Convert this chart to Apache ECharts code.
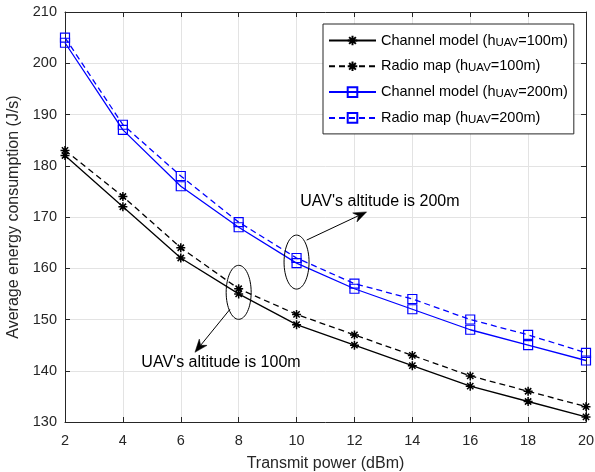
<!DOCTYPE html>
<html>
<head>
<meta charset="utf-8">
<script src="https://cdn.jsdelivr.net/npm/echarts@6/dist/echarts.min.js"></script>
<style>
  html, body { margin: 0; padding: 0; background: #fff; }
  #chart { width: 595px; height: 472px; }
</style>
</head>
<body>
<div id="chart"></div>
<script>
// data
const txPower = [2, 4, 6, 8, 10, 12, 14, 16, 18, 20];
const channel100 = [182, 172, 162, 155, 149, 145, 141, 137, 134, 131];
const radio100 = [183, 174, 164, 156, 151, 147, 143, 139, 136, 133];
const channel200 = [204, 187, 176, 168, 161, 156, 152, 148, 145, 142];
const radio200 = [205, 188, 178, 169, 162, 157, 154, 150, 147, 143.5];

const seriesNames = [
  'Channel model (h_UAV=100m)',
  'Radio map (h_UAV=100m)',
  'Channel model (h_UAV=200m)',
  'Radio map (h_UAV=200m)'
];

// annotations (data coordinates)
const ellipseCenters = [[8, 155.3], [10, 161.2]];
const arrowLines = [
  [[7.70, 152.0], [6.49, 143.6]],
  [[10.35, 165.5], [12.42, 171.0]]
];
const noteTexts = ["UAV's altitude is 100m", "UAV's altitude is 200m"];
const notePos = [[7.39, 141.5], [12.88, 173.0]];

const FONT = 'Liberation Sans, Arial, Helvetica, sans-serif';
const TXT = '#262626';
const ASTERISK = 'path://M0,5L10,5M5,0L5,10M1.5,1.5L8.5,8.5M8.5,1.5L1.5,8.5';
const SQUARE = 'path://M0,0L10,0L10,10L0,10Z';

function makeSeries(name, values, color, dashed, marker) {
  return {
    name: name,
    type: 'line',
    data: txPower.map((x, i) => [x, values[i]]),
    symbol: marker,
    symbolSize: 9,
    showSymbol: true,
    lineStyle: { color: color, width: 1.3, type: dashed ? [6, 4] : 'solid' },
    itemStyle: {
      color: marker === ASTERISK ? color : 'rgba(0,0,0,0)',
      borderColor: color,
      borderWidth: marker === ASTERISK ? 1.5 : 1.2
    },
    emphasis: { disabled: true },
    animation: false
  };
}

let chartDom = document.getElementById('chart');
let myChart = echarts.init(chartDom);

const axisCommon = {
  axisLine: { show: true, lineStyle: { color: TXT, width: 1 } },
  axisTick: { show: true, inside: true, length: 5, lineStyle: { color: TXT } }
};

let option = {
  animation: false,
  backgroundColor: '#fff',
  grid: { left: 65, right: 9, top: 12, bottom: 50, outerBoundsMode: 'none', containLabel: false },
  legend: {
    orient: 'vertical',
    left: 323,
    top: 24,
    padding: [9, 6, 8, 5],
    itemGap: 10.3,
    itemWidth: 47,
    itemHeight: 12,
    borderColor: TXT,
    borderWidth: 1,
    backgroundColor: '#fff',
    data: seriesNames,
    formatter: (name) => {
      const parts = name.split('_UAV');
      return '{n|' + parts[0] + '}{s|UAV}{n|' + parts[1] + '}';
    },
    textStyle: {
      color: '#000',
      fontFamily: FONT,
      rich: {
        n: { fontSize: 14.5, lineHeight: 16, fontFamily: FONT, color: '#000' },
        s: { fontSize: 11.5, lineHeight: 5, verticalAlign: 'bottom', fontFamily: FONT, color: '#000' }
      }
    }
  },
  xAxis: [
    Object.assign({
      type: 'value', min: 2, max: 20, interval: 2, position: 'bottom',
      name: 'Transmit power (dBm)', nameLocation: 'middle', nameGap: 34,
      nameTextStyle: { fontSize: 16, color: TXT, fontFamily: FONT },
      axisLabel: { fontSize: 14.5, color: TXT, fontFamily: FONT, margin: 11 },
      splitLine: { show: true, lineStyle: { color: '#e3e3e3', width: 1 } }
    }, axisCommon),
    Object.assign({
      type: 'value', min: 2, max: 20, interval: 2, position: 'top',
      axisLabel: { show: false }, splitLine: { show: false }
    }, axisCommon)
  ],
  yAxis: [
    Object.assign({
      type: 'value', min: 130, max: 210, interval: 10, position: 'left',
      name: 'Average energy consumption (J/s)', nameLocation: 'middle', nameGap: 31,
      nameTextStyle: { fontSize: 16, color: TXT, fontFamily: FONT },
      axisLabel: { fontSize: 14.5, color: TXT, fontFamily: FONT, margin: 8 },
      splitLine: { show: true, lineStyle: { color: '#e3e3e3', width: 1 } }
    }, axisCommon),
    Object.assign({
      type: 'value', min: 130, max: 210, interval: 10, position: 'right',
      axisLabel: { show: false }, splitLine: { show: false }
    }, axisCommon)
  ],
  series: [
    makeSeries(seriesNames[0], channel100, '#000000', false, ASTERISK),
    makeSeries(seriesNames[1], radio100, '#000000', true, ASTERISK),
    makeSeries(seriesNames[2], channel200, '#0000ff', false, SQUARE),
    makeSeries(seriesNames[3], radio200, '#0000ff', true, SQUARE)
  ]
};

option && myChart.setOption(option);

// annotation shapes placed through the axes
function px(p) { return myChart.convertToPixel({ gridIndex: 0 }, p); }

const elements = [];
ellipseCenters.forEach((c) => {
  const p = px(c);
  elements.push({
    type: 'ellipse', z: 100,
    shape: { cx: p[0], cy: p[1], rx: 12.5, ry: 27 },
    style: { fill: 'none', stroke: '#000', lineWidth: 1 }
  });
});
arrowLines.forEach((seg) => {
  const a = px(seg[0]);
  const b = px(seg[1]);
  const dx = b[0] - a[0], dy = b[1] - a[1];
  const len = Math.sqrt(dx * dx + dy * dy);
  const ux = dx / len, uy = dy / len;
  const nx = -uy, ny = ux;
  const L = 13, W = 5, N = 4;
  const base = [b[0] - ux * L, b[1] - uy * L];
  const notch = [b[0] - ux * (L - N), b[1] - uy * (L - N)];
  elements.push({
    type: 'line', z: 100,
    shape: { x1: a[0], y1: a[1], x2: notch[0], y2: notch[1] },
    style: { stroke: '#000', lineWidth: 1 }
  });
  elements.push({
    type: 'polygon', z: 100,
    shape: { points: [b, [base[0] + nx * W, base[1] + ny * W], notch, [base[0] - nx * W, base[1] - ny * W]] },
    style: { fill: '#000', stroke: '#000', lineWidth: 0.5 }
  });
});
noteTexts.forEach((t, i) => {
  const p = px(notePos[i]);
  elements.push({
    type: 'text', z: 100, x: p[0], y: p[1],
    style: { text: t, fontSize: 16, fontFamily: FONT, fill: '#000', align: 'center', verticalAlign: 'middle' }
  });
});

myChart.setOption({ graphic: { elements: elements } });
</script>
</body>
</html>
